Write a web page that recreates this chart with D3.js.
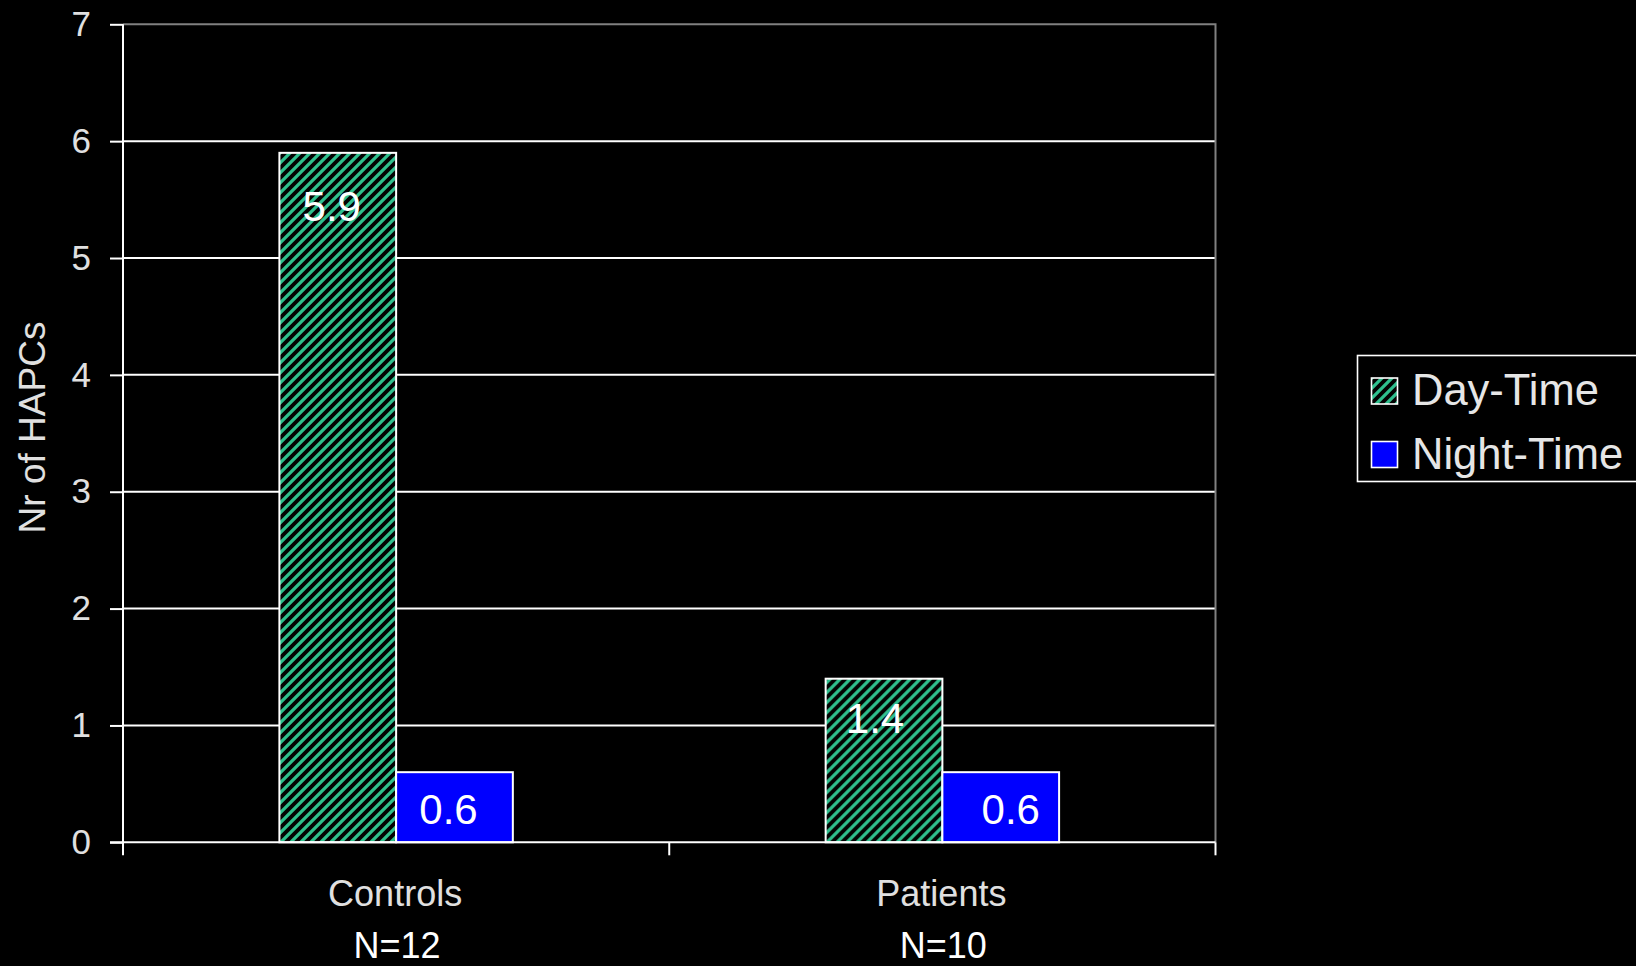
<!DOCTYPE html>
<html>
<head>
<meta charset="utf-8">
<script src="https://cdn.jsdelivr.net/npm/d3@7"></script>
<style>
  html, body { margin: 0; padding: 0; background: #000; }
  svg { display: block; font-family: "Liberation Sans", Arial, sans-serif; }
</style>
</head>
<body>
<svg id="chart" width="1636" height="966"></svg>
<script>
const categories  = ['Controls', 'Patients'];
const groupSizes  = ['N=12', 'N=10'];
const series      = ['Day-Time', 'Night-Time'];
const dayValues   = [5.9, 1.4];
const nightValues = [0.6, 0.6];
const yTicks      = [0, 1, 2, 3, 4, 5, 6, 7];
const yTitle      = 'Nr of HAPCs';

const W = 1636, H = 966;
const plot = { left: 123, right: 1215.5, top: 24.3, bottom: 842.3 };

const svg = d3.select('#chart').attr('viewBox', `0 0 ${W} ${H}`);
svg.append('rect').attr('width', W).attr('height', H).attr('fill', '#000');

// hatch for the day-time bars
const defs = svg.append('defs');
const P = 10;
const pat = defs.append('pattern')
  .attr('id', 'hatch').attr('patternUnits', 'userSpaceOnUse')
  .attr('width', P).attr('height', P);
pat.append('rect').attr('width', P).attr('height', P).attr('fill', '#030303');
pat.append('path')
  .attr('d', `M-2,2 L2,-2 M0,${P} L${P},0 M${P - 2},${P + 2} L${P + 2},${P - 2}`)
  .attr('stroke', '#2fc08e').attr('stroke-width', 3.2);

const x0 = d3.scaleBand().domain(categories).range([plot.left, plot.right]);
const x1 = d3.scaleBand().domain(series).range([0, x0.bandwidth()])
  .paddingInner(0).paddingOuter(1.34);
const y = d3.scaleLinear().domain([0, 7]).range([plot.bottom, plot.top]);

// grid
svg.append('g').selectAll('line')
  .data(yTicks.filter(t => t > 0 && t < 7))
  .join('line')
  .attr('x1', plot.left).attr('x2', plot.right)
  .attr('y1', d => y(d)).attr('y2', d => y(d))
  .attr('stroke', '#fff').attr('stroke-width', 2);

// plot border (top and right)
svg.append('path')
  .attr('d', `M${plot.left},${y(7)} H${plot.right} V${plot.bottom}`)
  .attr('fill', 'none').attr('stroke', '#808080').attr('stroke-width', 2);

// bars
const rows = categories.map((c, i) => ({ cat: c, vals: [dayValues[i], nightValues[i]] }));
const grp = svg.append('g').selectAll('g')
  .data(rows).join('g')
  .attr('transform', d => `translate(${x0(d.cat)},0)`);

grp.selectAll('rect')
  .data(d => d.vals.map((v, j) => ({ s: series[j], v })))
  .join('rect')
  .attr('x', d => x1(d.s))
  .attr('y', d => y(d.v))
  .attr('width', x1.bandwidth())
  .attr('height', d => y(0) - y(d.v))
  .attr('fill', d => d.s === series[0] ? 'url(#hatch)' : '#0000ff')
  .attr('stroke', '#fff').attr('stroke-width', 2);

// value labels, roughly where the original program put them
grp.selectAll('text')
  .data((d, i) => d.vals.map((v, j) => ({ s: series[j], v, i })))
  .join('text')
  .attr('x', d => x1(d.s) + x1.bandwidth() / 2 + (d.i === 1 ? (d.s === series[1] ? 10 : -9) : -6))
  .attr('y', d => y(d.v) + 50 + 3 * d.v)
  .attr('text-anchor', 'middle')
  .attr('fill', '#fff')
  .attr('font-size', 42)
  .text(d => d.v.toFixed(1));

// y axis
const yAxis = d3.axisLeft(y).tickValues(yTicks).tickFormat(d3.format('d'))
  .tickSize(13).tickPadding(19);
const gy = svg.append('g').attr('transform', `translate(${plot.left},0)`).call(yAxis);
gy.select('.domain').remove();
gy.selectAll('line').attr('stroke', '#fff').attr('stroke-width', 2);
gy.selectAll('text').attr('fill', '#e0e0e0').attr('font-size', 35)
  .attr('font-family', '"Liberation Sans", Arial, sans-serif');
svg.append('line')
  .attr('x1', plot.left).attr('x2', plot.left)
  .attr('y1', plot.top).attr('y2', plot.bottom + 1)
  .attr('stroke', '#fff').attr('stroke-width', 2);

// x axis
svg.append('line')
  .attr('x1', plot.left - 13).attr('x2', plot.right)
  .attr('y1', plot.bottom).attr('y2', plot.bottom)
  .attr('stroke', '#fff').attr('stroke-width', 2);
const bounds = categories.map(c => x0(c)).concat([x0(categories[1]) + x0.bandwidth()]);
svg.append('g').selectAll('line')
  .data(bounds).join('line')
  .attr('x1', d => d).attr('x2', d => d)
  .attr('y1', plot.bottom).attr('y2', plot.bottom + 13)
  .attr('stroke', '#fff').attr('stroke-width', 2);

const xl = svg.append('g').selectAll('text')
  .data(categories).join('text')
  .attr('text-anchor', 'middle')
  .attr('font-size', 36);
xl.append('tspan')
  .attr('x', d => x0(d) + x0.bandwidth() / 2 - 1)
  .attr('y', 906).attr('fill', '#e0e0e0')
  .text(d => d);
xl.append('tspan')
  .attr('x', d => x0(d) + x0.bandwidth() / 2 + 1)
  .attr('y', 958).attr('fill', '#fff')
  .text((d, i) => groupSizes[i]);

// y title
svg.append('text')
  .attr('transform', `translate(45,427.5) rotate(-90)`)
  .attr('text-anchor', 'middle')
  .attr('fill', '#e0e0e0')
  .attr('font-size', 37)
  .text(yTitle);

// legend
const lg = svg.append('g');
lg.append('rect')
  .attr('x', 1357.5).attr('y', 355.5).attr('width', 300).attr('height', 126)
  .attr('fill', '#000').attr('stroke', '#fff').attr('stroke-width', 1.6);
const items = lg.selectAll('g.item').data(series).join('g')
  .attr('class', 'item')
  .attr('transform', (d, i) => `translate(0,${i * 63.5})`);
items.append('rect')
  .attr('x', 1371.5).attr('y', 378).attr('width', 26).attr('height', 26)
  .attr('fill', (d, i) => i === 0 ? 'url(#hatch)' : '#0000ff')
  .attr('stroke', '#fff').attr('stroke-width', 1.6);
items.append('text')
  .attr('x', 1412).attr('y', 405)
  .attr('fill', '#e6e6e6').attr('font-size', 43.5)
  .text(d => d);
</script>
</body>
</html>
